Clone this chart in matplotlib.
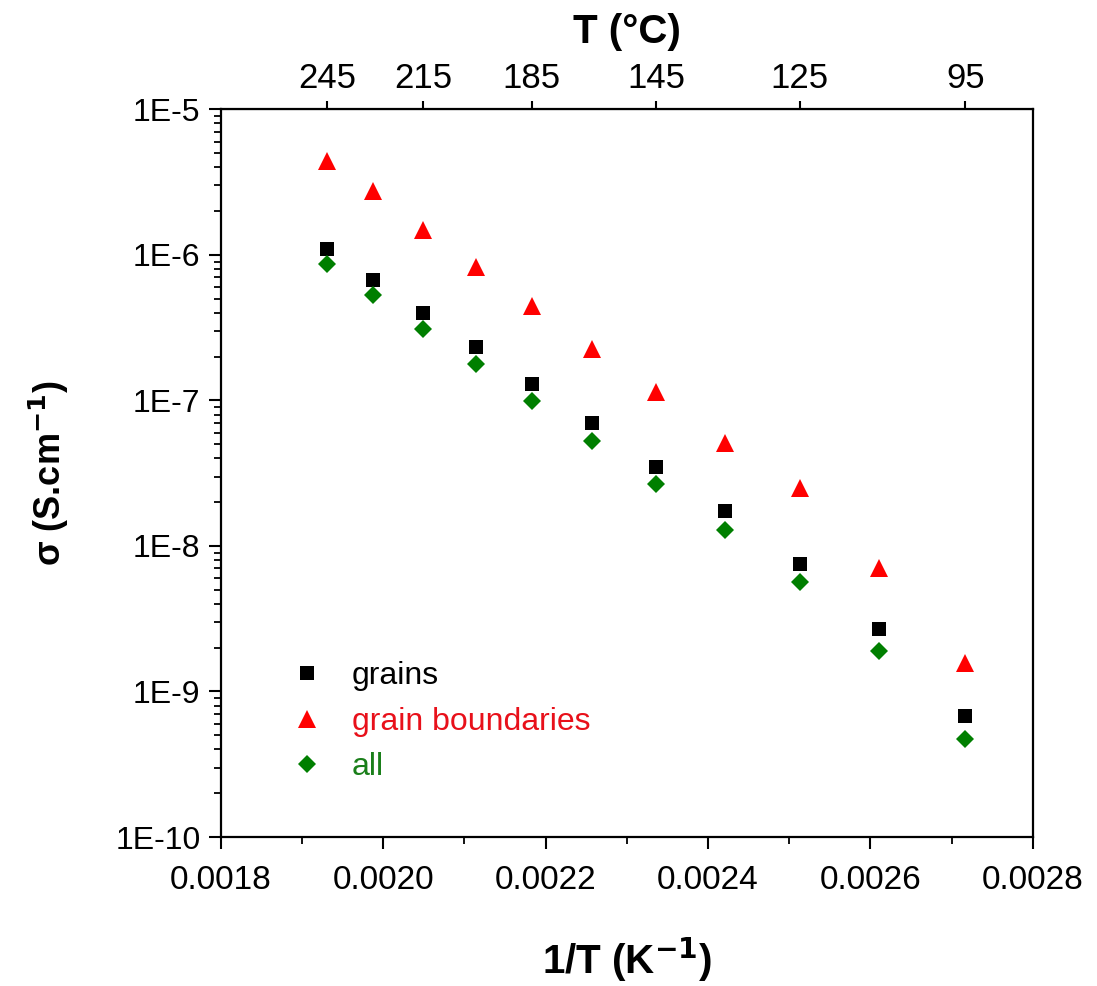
import matplotlib
matplotlib.use('Agg')
import matplotlib.pyplot as plt
from matplotlib.ticker import FixedLocator, AutoMinorLocator, FuncFormatter, LogLocator
import numpy as np

# 1/T values of the measurements (K^-1)
inv_T = [0.001931, 0.001988, 0.002049, 0.002114, 0.002183, 0.002257,
         0.002336, 0.002421, 0.002513, 0.002611, 0.002717]

# conductivities (S/cm)
grains = [1.10e-6, 6.7e-7, 4.0e-7, 2.32e-7, 1.30e-7, 6.98e-8,
          3.50e-8, 1.73e-8, 7.5e-9, 2.67e-9, 6.8e-10]
boundaries = [4.44e-6, 2.76e-6, 1.48e-6, 8.26e-7, 4.47e-7, 2.25e-7,
              1.15e-7, 5.09e-8, 2.51e-8, 7.07e-9, 1.58e-9]
all_vals = [8.6e-7, 5.32e-7, 3.10e-7, 1.79e-7, 9.93e-8, 5.25e-8,
            2.65e-8, 1.29e-8, 5.66e-9, 1.90e-9, 4.70e-10]

# top axis: temperature labels placed at every second point
top_idx = [0, 2, 4, 6, 8, 10]
top_labels = ['245', '215', '185', '145', '125', '95']

x_ticks = [0.0018, 0.0020, 0.0022, 0.0024, 0.0026, 0.0028]

fam = ['Liberation Sans', 'DejaVu Sans']

fig = plt.figure(figsize=(10.97, 9.86), dpi=100)
ax = fig.add_axes([0.2012, 0.1511, 0.7402, 0.738])

ax.plot(inv_T, grains, 's', color='black', ms=9.9, mew=0, label='grains')
ax.plot(inv_T, boundaries, '^', color='#ff0000', ms=12.6, mew=0, label='grain boundaries')
ax.plot(inv_T, all_vals, 'D', color='#007f00', ms=9.2, mew=0, label='all')

ax.set_yscale('log')
ax.set_ylim(1e-10, 1e-5)
ax.set_xlim(0.0018, 0.0028)

ax.xaxis.set_major_locator(FixedLocator(x_ticks))
ax.xaxis.set_major_formatter(FuncFormatter(lambda v, p: '%.4f' % v))
ax.xaxis.set_minor_locator(AutoMinorLocator(2))
ax.yaxis.set_major_formatter(FuncFormatter(lambda v, p: '1E%d' % round(np.log10(v))))
ax.yaxis.set_minor_locator(LogLocator(base=10, subs=np.arange(2, 10)))
ax.yaxis.set_minor_formatter(plt.NullFormatter())

for s in ax.spines.values():
    s.set_linewidth(1.6)

ax.tick_params(which='major', direction='out', length=8.5, width=1.5)
ax.tick_params(which='minor', direction='out', length=5, width=1.3)
ax.tick_params(axis='x', which='major', labelsize=24, labelfontfamily=fam, pad=12)
ax.tick_params(axis='y', which='major', labelsize=23, labelfontfamily=fam, pad=6)

top = ax.secondary_xaxis('top')
top.set_xticks([inv_T[i] for i in top_idx], top_labels)
top.tick_params(direction='out', length=6, width=1.5, labelsize=25,
                labelfontfamily=fam, pad=4)
top.set_xlabel('T (\u00b0C)', fontsize=29, fontweight='bold', family=fam, labelpad=14)

ax.set_xlabel('1/T (K$^{\\mathbf{-1}}$)', fontsize=29, fontweight='bold', family=fam, labelpad=28)
ax.set_ylabel('\u03c3 (S.cm$^{\\mathbf{-1}}$)', fontsize=26, fontweight='bold', family=fam, labelpad=32)

leg = ax.legend(loc='center left', bbox_to_anchor=(0.265, 0.2680),
                bbox_transform=fig.transFigure, frameon=False,
                prop={'family': fam, 'size': 23},
                handlelength=1.0, handletextpad=0.92, borderpad=0,
                borderaxespad=0, labelspacing=0.49,
                labelcolor=['black', '#e8101a', '#1a7f1a'])

fig.savefig('out.png', dpi=100)
